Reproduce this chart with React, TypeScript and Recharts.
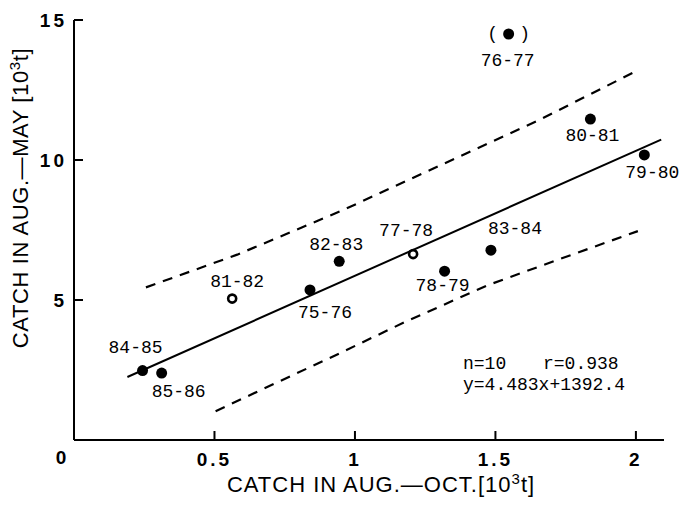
import React from 'react';
import { ComposedChart, Scatter, XAxis, YAxis, Customized } from 'recharts';

// seasons (Aug.-May), catch Aug.-Oct. [10^3 t] vs catch Aug.-May [10^3 t]
const seasons = ['84-85', '85-86', '81-82', '75-76', '82-83', '77-78', '78-79', '83-84', '76-77', '80-81', '79-80'];
const catchAugOct = [0.244, 0.312, 0.563, 0.84, 0.944, 1.207, 1.319, 1.484, 1.547, 1.838, 2.03];
const catchAugMay = [2.48, 2.39, 5.05, 5.36, 6.38, 6.64, 6.03, 6.78, 14.5, 11.46, 10.18];

// regression line end points
const fitX = [0.19, 2.09];
const fitY = [2.25, 10.73];

// dashed confidence bands
const upperX = [0.256, 0.581, 0.955, 1.297, 1.65, 2.002];
const upperY = [5.45, 6.62, 8.2, 9.78, 11.4, 13.18];
const lowerX = [0.504, 0.944, 1.177, 1.473, 1.731, 2.007];
const lowerY = [1.03, 3.09, 4.21, 5.53, 6.47, 7.46];

const xTicks = [0, 0.5, 1, 1.5, 2];
const yTicks = [5, 10, 15];

// label placement around each dot, px
const labelOffset: Record<string, [number, number]> = {
  '84-85': [-7, -23],
  '85-86': [17, 19],
  '81-82': [5, -17],
  '75-76': [15, 23],
  '82-83': [-3, -16],
  '77-78': [-7, -23],
  '78-79': [-2, 15],
  '83-84': [24, -21],
  '76-77': [-1, 27],
  '80-81': [2, 17],
  '79-80': [8, 18],
};
const openMarkers = ['81-82', '77-78'];
const bracketed = ['76-77'];

const points = seasons.map((season, i) => ({ season, x: catchAugOct[i], y: catchAugMay[i] }));
const toLine = (xs: number[], ys: number[]) => xs.map((x, i) => ({ x, y: ys[i] }));

const mono = '"Liberation Mono", "DejaVu Sans Mono", monospace';
const sans = '"Liberation Sans", Arial, sans-serif';
const TICK = 9;

const SeasonDot = (props: any) => {
  const { cx, cy, payload } = props;
  const [dx, dy] = labelOffset[payload.season] ?? [0, 18];
  const open = openMarkers.includes(payload.season);
  return (
    <g>
      {open ? (
        <circle cx={cx} cy={cy} r={4} fill="#fff" stroke="#000" strokeWidth={2.6} />
      ) : (
        <circle cx={cx} cy={cy} r={5.5} fill="#000" />
      )}
      {bracketed.includes(payload.season) && (
        <>
          <text x={cx - 16} y={cy} textAnchor="middle" dominantBaseline="central" fontFamily={mono} fontSize={18}>(</text>
          <text x={cx + 16} y={cy} textAnchor="middle" dominantBaseline="central" fontFamily={mono} fontSize={18}>)</text>
        </>
      )}
      <text x={cx + dx} y={cy + dy} textAnchor="middle" dominantBaseline="central" fontFamily={mono} fontSize={18} fill="#000">
        {payload.season}
      </text>
    </g>
  );
};

const NoDot = () => <g />;

// tick lines point inward (negative tickSize), so labels are shifted back past the axis
const YTick = ({ x, y, payload }: any) => (
  <text x={x - TICK - 7} y={y} textAnchor="end" dominantBaseline="central" fontFamily={sans} fontWeight="bold" fontSize={19} letterSpacing={3} fill="#000">
    {payload.value}
  </text>
);

const XTick = ({ x, y, payload }: any) => (
  <text
    x={payload.value === 0 ? x - 13 : x}
    y={payload.value === 0 ? y + TICK + 17 : y + TICK + 19}
    textAnchor="middle"
    dominantBaseline="central"
    fontFamily={sans}
    fontWeight="bold"
    fontSize={19}
    letterSpacing={payload.value === 0 ? 0 : 3}
    fill="#000"
  >
    {payload.value}
  </text>
);

const Titles = () => (
  <g fill="#000">
    <text x={381} y={492} textAnchor="middle" fontFamily={sans} fontSize={22} letterSpacing={1}>
      CATCH IN AUG.—OCT.[10<tspan dy={-8} fontSize={15}>3</tspan><tspan dy={8}>t]</tspan>
    </text>
    <text x={28} y={198} transform="rotate(-90 28 198)" textAnchor="middle" fontFamily={sans} fontSize={22} letterSpacing={0.6}>
      CATCH IN AUG.—MAY [10<tspan dy={-8} fontSize={15}>3</tspan><tspan dy={8}>t]</tspan>
    </text>
    <text x={463} y={364} dominantBaseline="central" fontFamily={mono} fontSize={18}>n=10</text>
    <text x={543} y={364} dominantBaseline="central" fontFamily={mono} fontSize={18}>r=0.938</text>
    <text x={463} y={385} dominantBaseline="central" fontFamily={mono} fontSize={18}>y=4.483x+1392.4</text>
  </g>
);

export default function App() {
  return (
    <div style={{ position: 'absolute', left: 0, top: 0, width: 690, height: 506, background: '#fff' }}>
      <ComposedChart width={690} height={506} margin={{ top: 20, right: 26, bottom: 65, left: 73 }}>
        <XAxis
          type="number"
          dataKey="x"
          domain={[0, 2.1]}
          ticks={xTicks}
          height={1}
          tickSize={-TICK}
          tickMargin={0}
          tickLine={{ stroke: '#000', strokeWidth: 2 }}
          tick={<XTick />}
          axisLine={{ stroke: '#000', strokeWidth: 2 }}
        />
        <YAxis
          type="number"
          dataKey="y"
          domain={[0, 15]}
          ticks={yTicks}
          width={1}
          tickSize={-TICK}
          tickMargin={0}
          tickLine={{ stroke: '#000', strokeWidth: 2 }}
          tick={<YTick />}
          axisLine={{ stroke: '#000', strokeWidth: 2 }}
        />
        <Scatter
          data={toLine(upperX, upperY)}
          shape={<NoDot />}
          line={{ stroke: '#000', strokeWidth: 2.2, strokeDasharray: '10 8' }}
          isAnimationActive={false}
        />
        <Scatter
          data={toLine(lowerX, lowerY)}
          shape={<NoDot />}
          line={{ stroke: '#000', strokeWidth: 2.2, strokeDasharray: '10 8' }}
          isAnimationActive={false}
        />
        <Scatter
          data={toLine(fitX, fitY)}
          shape={<NoDot />}
          line={{ stroke: '#000', strokeWidth: 2 }}
          isAnimationActive={false}
        />
        <Scatter data={points} shape={<SeasonDot />} isAnimationActive={false} />
        <Customized component={<Titles />} />
      </ComposedChart>
    </div>
  );
}
